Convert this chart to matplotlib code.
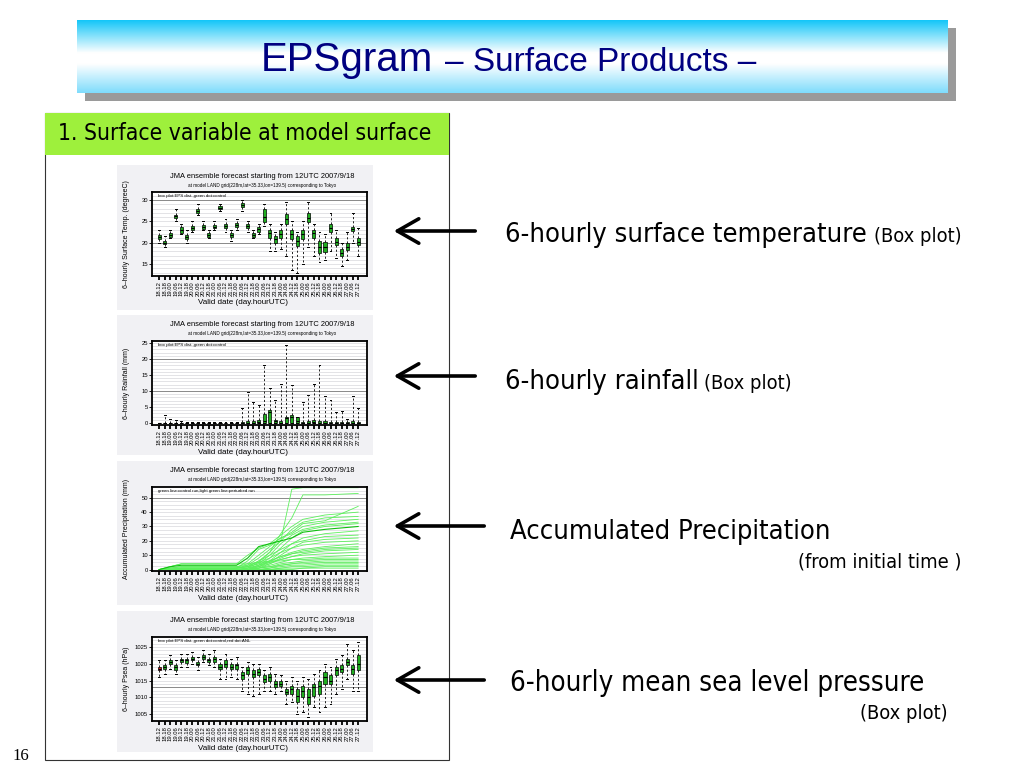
import numpy as np
import matplotlib as mpl
mpl.use('Agg')
import matplotlib.pyplot as plt
from matplotlib import font_manager
from matplotlib.font_manager import FontProperties
from matplotlib.colors import LinearSegmentedColormap
from matplotlib.patches import Rectangle

W, H = 1024, 768

# ---------------- data ----------------
times = ['18.12', '18.18',
         '19.00', '19.06', '19.12', '19.18',
         '20.00', '20.06', '20.12', '20.18',
         '21.00', '21.06', '21.12', '21.18',
         '22.00', '22.06', '22.12', '22.18',
         '23.00', '23.06', '23.12', '23.18',
         '24.00', '24.06', '24.12', '24.18',
         '25.00', '25.06', '25.12', '25.18',
         '26.00', '26.06', '26.12', '26.18',
         '27.00', '27.06', '27.12']

# surface temperature (degC)
temp_med = [21.3, 20.0, 21.8, 26.2, 23.0, 21.3, 23.5, 27.5, 23.7, 21.8, 23.8, 28.2, 24.0, 21.8,
            24.2, 28.8, 24.0, 21.8, 23.2, 26.0, 22.2, 20.8, 22.0, 25.5, 22.0, 20.5, 22.0, 25.8,
            22.2, 19.0, 19.0, 23.5, 20.2, 17.5, 19.0, 23.3, 20.2]
temp_q1 = [20.8, 19.6, 21.3, 25.8, 22.4, 20.8, 23.0, 27.0, 23.3, 21.3, 23.4, 27.8, 23.5, 21.3,
           23.8, 28.3, 23.5, 21.3, 22.6, 24.8, 21.0, 20.0, 21.0, 24.3, 20.8, 19.3, 20.8, 24.8,
           21.0, 17.5, 17.8, 22.6, 19.5, 16.8, 18.2, 22.8, 19.5]
temp_q3 = [21.7, 20.3, 22.2, 26.6, 23.6, 21.8, 24.0, 28.0, 24.1, 22.3, 24.2, 28.6, 24.5, 22.3,
           24.6, 29.3, 24.5, 22.3, 23.8, 27.8, 23.0, 21.5, 23.0, 26.8, 23.0, 21.5, 23.0, 27.0,
           23.0, 20.5, 20.2, 24.5, 21.0, 18.5, 20.0, 23.8, 21.0]
temp_lo = [20.0, 19.0, 21.0, 25.0, 22.0, 20.0, 22.5, 26.5, 23.0, 21.0, 23.0, 27.5, 22.5, 20.5,
           23.0, 27.5, 22.5, 21.0, 22.0, 24.0, 18.0, 18.0, 18.5, 17.0, 13.5, 13.0, 15.0, 19.0,
           17.0, 15.5, 16.0, 18.0, 16.5, 14.5, 16.0, 20.0, 17.0]
temp_hi = [23.0, 21.5, 23.0, 28.0, 24.5, 23.0, 25.0, 29.0, 25.0, 23.0, 25.0, 29.0, 25.5, 23.0,
           25.5, 30.0, 25.0, 23.0, 24.5, 29.0, 24.5, 22.5, 24.5, 29.5, 25.0, 22.5, 25.0, 29.5,
           24.5, 22.5, 22.0, 27.0, 23.0, 20.0, 22.5, 27.0, 23.5]

# 6-hourly rainfall (mm)
rain_med = [0, 0, 0, 0, 0, 0, 0, 0, 0, 0, 0, 0, 0, 0, 0, 0, 0, 0, 0.2, 0.8, 3.5, 0.5, 0.1, 1.5,
            1.8, 0.5, 0, 0.1, 0.3, 0.1, 0.1, 0, 0, 0, 0, 0.1, 0.1]
rain_q1 = [0] * 37
rain_q3 = [0, 0, 0, 0, 0, 0, 0, 0, 0, 0, 0, 0, 0, 0, 0, 0.3, 0.6, 0.8, 1.0, 2.7, 4.0, 1.0, 0.5,
           2.0, 2.5, 1.8, 0.2, 0.5, 1.0, 0.5, 0.5, 0.3, 0.2, 0.3, 0.2, 0.5, 0.4]
rain_lo = [0] * 37
rain_hi = [0, 2.5, 1.2, 1.0, 0.6, 0.4, 0.3, 0.3, 0.3, 0.3, 0.3, 0.3, 0.3, 0.3, 0.3, 4.7, 9.7,
           6.6, 5.5, 18.0, 11.0, 7.3, 12.2, 24.5, 11.8, 2.0, 6.6, 8.9, 12.2, 18.0, 8.3, 7.3,
           3.6, 3.9, 1.4, 8.3, 4.7]

# accumulated precipitation (mm): member values at knot times
knot_idx = [0, 2, 4, 14, 16, 18, 20, 22, 24, 26, 30, 36]
members = [
    [0, 0, 1, 1, 3, 8, 14, 20, 56, 57, 57, 57],
    [0, 0, 0, 1, 2, 6, 12, 25, 36, 52, 52, 53],
    [0, 1, 2, 2, 4, 10, 16, 22, 26, 32, 34, 44],
    [0, 2, 4, 4, 10, 15, 18, 24, 30, 35, 38, 40],
    [0, 0, 0, 0, 1, 5, 12, 20, 28, 33, 36, 37],
    [0, 1, 1, 1, 6, 14, 17, 22, 25, 30, 33, 35],
    [0, 0, 1, 1, 2, 4, 10, 18, 24, 28, 31, 33],
    [0, 0, 0, 0, 0, 3, 8, 15, 22, 27, 30, 32],
    [0, 2, 3, 3, 8, 16, 18, 20, 22, 26, 28, 30],
    [0, 0, 0, 0, 1, 2, 6, 12, 18, 22, 25, 27],
    [0, 0, 1, 1, 2, 6, 10, 14, 18, 20, 23, 24],
    [0, 0, 0, 0, 0, 2, 5, 10, 15, 19, 21, 22],
    [0, 1, 2, 2, 3, 5, 8, 12, 15, 17, 19, 20],
    [0, 0, 0, 0, 1, 3, 6, 9, 12, 14, 16, 18],
    [0, 0, 0, 0, 0, 1, 4, 8, 11, 13, 15, 16],
    [0, 1, 1, 1, 2, 4, 6, 9, 11, 12, 14, 15],
    [0, 0, 0, 0, 0, 2, 4, 7, 9, 11, 13, 14],
    [0, 0, 1, 1, 1, 3, 5, 7, 9, 10, 11, 12],
    [0, 0, 0, 0, 0, 1, 3, 5, 7, 8, 9, 10],
    [0, 2, 4, 4, 4, 5, 6, 6, 7, 7, 8, 8],
    [0, 0, 0, 0, 0, 1, 2, 4, 5, 6, 7, 7],
    [0, 0, 0, 0, 0, 0, 1, 3, 4, 5, 6, 6],
    [0, 0, 0, 0, 0, 1, 2, 3, 4, 4, 5, 5],
    [0, 0, 0, 0, 0, 0, 1, 2, 3, 3, 4, 4],
    [0, 0, 0, 0, 0, 0, 0, 1, 2, 2, 3, 3],
    [0, 0, 0, 0, 0, 0, 0, 1, 1, 1, 2, 2],
    [0, 0, 0, 0, 0, 0, 0, 0, 0, 1, 1, 1],
]
control_member = 8

# mean sea level pressure (hPa)
psea_med = [1018.5, 1019.0, 1020.5, 1019.0, 1021.0, 1021.0, 1021.5, 1020.0, 1022.0, 1021.0,
            1021.5, 1019.0, 1020.0, 1019.0, 1019.5, 1016.5, 1018.0, 1017.0, 1017.5, 1015.5,
            1016.0, 1014.0, 1014.0, 1011.5, 1012.5, 1010.5, 1012.0, 1010.0, 1013.0, 1013.5,
            1016.0, 1015.0, 1018.0, 1018.5, 1020.5, 1018.5, 1020.0]
psea_q1 = [1018.0, 1018.5, 1020.0, 1018.0, 1020.5, 1020.3, 1021.0, 1019.5, 1021.5, 1020.5,
           1020.5, 1018.5, 1019.0, 1018.5, 1018.5, 1015.5, 1017.0, 1016.0, 1016.5, 1014.5,
           1015.0, 1013.0, 1013.5, 1011.0, 1011.0, 1008.5, 1010.0, 1008.0, 1010.5, 1011.0,
           1014.0, 1014.0, 1016.5, 1017.5, 1019.5, 1017.0, 1018.0]
psea_q3 = [1019.0, 1019.5, 1021.2, 1019.5, 1021.5, 1021.3, 1022.0, 1020.5, 1022.5, 1021.5,
           1022.0, 1020.0, 1021.0, 1020.0, 1020.0, 1017.5, 1019.0, 1018.0, 1018.5, 1016.5,
           1017.0, 1015.0, 1015.0, 1012.5, 1013.5, 1012.5, 1013.5, 1012.5, 1014.0, 1015.0,
           1017.5, 1016.5, 1019.0, 1019.5, 1021.5, 1019.5, 1022.5]
psea_lo = [1016.0, 1017.0, 1018.5, 1017.0, 1019.0, 1019.0, 1020.0, 1018.0, 1020.5, 1019.5,
           1019.0, 1015.5, 1015.5, 1016.0, 1015.5, 1012.0, 1011.0, 1010.5, 1011.0, 1012.0,
           1012.0, 1011.0, 1012.0, 1008.0, 1008.5, 1005.0, 1005.5, 1004.0, 1007.0, 1005.5,
           1007.0, 1008.0, 1011.0, 1012.5, 1015.5, 1012.0, 1012.0]
psea_hi = [1021.0, 1021.0, 1022.5, 1021.0, 1023.0, 1023.0, 1023.5, 1022.0, 1024.0, 1023.0,
           1024.0, 1021.5, 1023.0, 1021.5, 1022.0, 1019.0, 1020.5, 1020.0, 1020.0, 1018.0,
           1019.0, 1017.0, 1016.5, 1015.0, 1016.0, 1015.0, 1016.0, 1015.5, 1017.0, 1018.0,
           1020.0, 1019.0, 1021.5, 1022.5, 1026.0, 1024.0, 1026.5]

# ---------------- fonts ----------------
plt.rcParams['font.family'] = ['Liberation Sans', 'DejaVu Sans']


def find_narrow():
    for f in font_manager.fontManager.ttflist:
        fn = f.fname.lower()
        if ('narrow' in f.name.lower() or 'condensed' in f.name.lower()
                or 'condensed' in fn or 'narrow' in fn):
            if 'bold' in fn or 'italic' in fn or 'oblique' in fn or 'light' in fn:
                continue
            if 'serif' in fn and 'sans' not in fn:
                continue
            return f.fname
    return None


narrow_file = find_narrow()
if narrow_file:
    NARROW = FontProperties(fname=narrow_file)
    k = 0.78
else:
    NARROW = FontProperties(family='Liberation Sans')
    k = 0.8

fig = plt.figure(figsize=(10.24, 7.68), dpi=100)


def fig_rect(x0, y0, x1, y1):
    return [x0 / W, 1 - y1 / H, (x1 - x0) / W, (y1 - y0) / H]


def ntext(x, y, s, size, **kw):
    fp = NARROW.copy()
    fp.set_size(size)
    return base.text(x, y, s, fontproperties=fp, **kw)


base = fig.add_axes([0, 0, 1, 1])
base.set_xlim(0, W)
base.set_ylim(H, 0)
base.axis('off')

# title banner
base.add_patch(Rectangle((85, 28), 871, 73, fc='#9a9a9a', ec='none', zorder=1))
cmap = LinearSegmentedColormap.from_list('banner', [(0, '#14c6f8'), (0.45, '#ffffff'),
                                                     (0.6, '#ffffff'), (1, '#7fdcfc')])
base.imshow(np.linspace(0, 1, 200).reshape(-1, 1), cmap=cmap, aspect='auto',
            extent=(77, 948, 93, 20), zorder=2)
base.set_xlim(0, W)
base.set_ylim(H, 0)
base.text(433, 71, 'EPSgram', fontsize=29, color='#000080', ha='right', va='baseline', zorder=3)
base.text(445, 71, '– Surface Products –', fontsize=24, color='#000080', ha='left',
          va='baseline', zorder=3)

# left frame and header
base.add_patch(Rectangle((45, 113), 404, 647, fc='white', ec='#333333', lw=0.8, zorder=1))
base.add_patch(Rectangle((45, 113), 404, 42, fc='#9ef03c', ec='none', zorder=2))
ntext(58, 134, '1. Surface variable at model surface', 21 * k, ha='left', va='center', zorder=3)

base.text(12, 756, '16', fontsize=12, family='Liberation Serif', ha='left', va='center')

# right side labels and arrows
arrows = [(231, 478), (376, 478), (526, 487), (680, 487)]
for y, x_end in arrows:
    base.annotate('', xy=(391, y), xytext=(x_end, y),
                  arrowprops=dict(arrowstyle='->, head_length=0.7, head_width=0.4',
                                  lw=2.6, color='black', mutation_scale=22))

big = 25 * k
small = 18.5 * k
ntext(505, 242, '6-hourly surface temperature', big, va='baseline')
ntext(962, 242, '(Box plot)', small, ha='right', va='baseline')
ntext(505, 389, '6-hourly rainfall', big, va='baseline')
ntext(704, 389, '(Box plot)', small, ha='left', va='baseline')
ntext(510, 539, 'Accumulated Precipitation', big, va='baseline')
ntext(962, 568, '(from initial time )', small, ha='right', va='baseline')
ntext(510, 691, '6-hourly mean sea level pressure', 25.4 * k, va='baseline')
ntext(948, 719, '(Box plot)', small, ha='right', va='baseline')

TITLE = 'JMA ensemble forecast starting from 12UTC 2007/9/18'
SUB = 'at model LAND grid(228m,lat=35.33,lon=139.5) corresponding to Tokyo'
pos = np.arange(len(times))


def panel(rect, bg, ylabel, note, ylim, yticks, light, dark):
    x0, y0, x1, y1 = rect
    base.add_patch(Rectangle((bg[0], bg[1]), bg[2] - bg[0], bg[3] - bg[1],
                             fc='#f1f1f4', ec='none', zorder=1))
    ax = fig.add_axes(fig_rect(x0, y0, x1, y1))
    ax.set_facecolor('white')
    ax.set_xlim(-1.3, 37.6)
    ax.set_ylim(*ylim)
    for v in light:
        ax.axhline(v, color='#d8d8dc', lw=0.5, zorder=0)
    for v in dark:
        ax.axhline(v, color='#8a8a8a', lw=0.7, zorder=0)
    ax.set_xticks(pos)
    ax.set_xticklabels(times, rotation=90, fontsize=4.2)
    ax.set_yticks(yticks)
    ax.tick_params(axis='x', length=3, width=1.3, pad=1)
    ax.tick_params(axis='y', length=2, width=0.6, pad=1, labelsize=4.2)
    for s in ax.spines.values():
        s.set_linewidth(1.3)
    ax.text(0.03, 0.98, note, transform=ax.transAxes, fontsize=3.2, va='top', ha='left')
    cx = (x0 + x1) / 2 + 3
    base.text(cx, y0 - 16, TITLE, fontsize=5.4, ha='center', va='center')
    base.text(cx, y0 - 7, SUB, fontsize=3.3, ha='center', va='center')
    base.text(cx - 20, y1 + 27, 'Valid date (day.hourUTC)', fontsize=5.8, ha='center', va='center')
    base.text(126, (y0 + y1) / 2, ylabel, fontsize=5.0, rotation=90, ha='center', va='center')
    return ax


def boxes(ax, med, q1, q3, lo, hi, first_color=None):
    stats = []
    for i in range(len(med)):
        stats.append(dict(med=med[i], q1=q1[i], q3=q3[i], whislo=lo[i], whishi=hi[i]))
    b = ax.bxp(stats, positions=pos, widths=0.55, patch_artist=True, showfliers=False,
               boxprops=dict(facecolor='#1fae1f', edgecolor='black', lw=0.5),
               medianprops=dict(color='black', lw=0.8),
               whiskerprops=dict(color='black', lw=0.6, ls=(0, (2.5, 2.5))),
               capprops=dict(color='black', lw=0.7), capwidths=0.35,
               manage_ticks=False)
    if first_color:
        b['boxes'][0].set_facecolor(first_color)
    return b


ax1 = panel((152, 192, 367, 276), (117, 165, 373, 310), '6–hourly Surface Temp. (degreeC)',
            'box plot:EPS dist.,green dot:control', (12.2, 31.9), [15, 20, 25, 30],
            range(13, 32), [20, 30])
boxes(ax1, temp_med, temp_q1, temp_q3, temp_lo, temp_hi)

ax2 = panel((152, 341, 367, 425), (117, 315, 373, 455), '6–hourly Rainfall (mm)',
            'box plot:EPS dist.,green dot:control', (-0.6, 25.6), [0, 5, 10, 15, 20, 25],
            range(1, 26), [10, 20])
boxes(ax2, rain_med, rain_q1, rain_q3, rain_lo, rain_hi)

ax3 = panel((152, 487, 367, 571), (117, 461, 373, 605), 'Accumulated Precipitation (mm)',
            'green line:control run,light green line:perturbed run', (-1, 57.5),
            [0, 10, 20, 30, 40, 50], np.arange(2.5, 57, 2.5), [50])
for j, m in enumerate(members):
    if j == control_member:
        continue
    ax3.plot(knot_idx, m, color='#5cf05c', lw=0.6)
ax3.plot(knot_idx, members[control_member], color='#10c010', lw=0.8)

ax4 = panel((152, 637, 367, 721), (117, 611, 373, 752), '6–hourly Psea (hPa)',
            'box plot:EPS dist.,green dot:control,red dot:ANL', (1002.9, 1028),
            [1005, 1010, 1015, 1020, 1025], range(1003, 1028), [1013])
boxes(ax4, psea_med, psea_q1, psea_q3, psea_lo, psea_hi, first_color='#e02020')

fig.savefig('out.png', dpi=100)
